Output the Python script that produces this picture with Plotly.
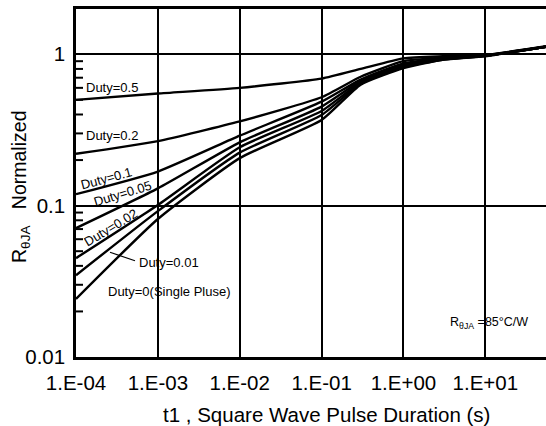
import math
import plotly.graph_objects as go

# ---- data ----
t_values = [1e-4, 1e-3, 1e-2, 1e-1, 3e-1, 1.0, 3.0, 10.0, 55.0]
duty_labels = ["0.5", "0.2", "0.1", "0.05", "0.02", "0.01", "0"]
r_d05 = [0.50, 0.55, 0.60, 0.69, 0.80, 0.94, 0.97, 0.99, 1.13]
r_d02 = [0.22, 0.267, 0.36, 0.52, 0.71, 0.90, 0.95, 0.985, 1.12]
r_d01 = [0.119, 0.168, 0.29, 0.486, 0.68, 0.87, 0.94, 0.98, 1.12]
r_d005 = [0.071, 0.13, 0.262, 0.451, 0.665, 0.85, 0.93, 0.98, 1.12]
r_d002 = [0.045, 0.101, 0.243, 0.422, 0.65, 0.83, 0.925, 0.975, 1.12]
r_d001 = [0.0347, 0.092, 0.224, 0.397, 0.64, 0.82, 0.92, 0.975, 1.12]
r_single = [0.0242, 0.0816, 0.206, 0.368, 0.63, 0.81, 0.92, 0.97, 1.12]
series = [r_d05, r_d02, r_d01, r_d005, r_d002, r_d001, r_single]

x_tickvals = [1e-4, 1e-3, 1e-2, 1e-1, 1e0, 1e1]
x_ticktext = ["1.E-04", "1.E-03", "1.E-02", "1.E-01", "1.E+00", "1.E+01"]
y_tickvals = [0.01, 0.1, 1]
y_ticktext = ["0.01", "0.1", "1"]
y_minor = [m * 10 ** e for e in (-2, -1) for m in range(2, 10)]

FONT = "Liberation Sans, Arial, sans-serif"
W, H = 546, 426
L, R, T, B = 76, 0, 9, 69
PW, PH = W - L - R, H - T - B
YR = [-2, 0.299]


def px(xp):
    return (xp - L) / PW


def py(yp):
    return (H - B - yp) / PH


def ylog_to_paper(v):
    return (math.log10(v) - YR[0]) / (YR[1] - YR[0])


fig = go.Figure()
for name, vals in zip(duty_labels, series):
    fig.add_trace(go.Scatter(x=t_values, y=vals, mode="lines", name="Duty=" + name,
                             line=dict(color="black", width=2.4, shape="spline", smoothing=0.5),
                             showlegend=False, hoverinfo="skip"))

ann = []
def label(text, xp, yp, ang=0, size=13):
    ann.append(dict(text=text, x=px(xp), y=py(yp), xref="paper", yref="paper",
                    showarrow=False, textangle=ang, xanchor="center", yanchor="middle",
                    font=dict(family=FONT, size=size, color="black")))

label("Duty=0.5", 112, 87.5)
label("Duty=0.2", 112, 135)
label("Duty=0.1", 106, 178, -15)
label("Duty=0.05", 123, 194, -17)
label("Duty=0.02", 111, 227.5, -31)
label("Duty=0.01", 168.5, 262)
label("Duty=0(Single Pluse)", 168.5, 291)
label("R<sub>θJA</sub> =85°C/W", 488.5, 323, 0, 12.5)
label("t1 , Square Wave Pulse Duration (s)", 326.5, 414, 0, 20.5)
label("R<sub>θJA</sub>\u00a0\u00a0\u00a0Normalized", 20, 187, -90, 19.5)

fig.add_shape(type="line", xref="paper", yref="paper",
              x0=px(110), y0=py(252.3), x1=px(135), y1=py(260.7),
              line=dict(color="black", width=1.2))
# minor ticks (inside) on the y axis
for v in y_minor:
    yp = ylog_to_paper(v)
    fig.add_shape(type="line", xref="paper", yref="paper",
                  x0=0, x1=7 / PW, y0=yp, y1=yp,
                  line=dict(color="black", width=2))

fig.update_layout(
    width=W, height=H, autosize=False,
    margin=dict(l=L, r=R, t=T, b=B, pad=0),
    paper_bgcolor="white", plot_bgcolor="white",
    annotations=ann,
    xaxis=dict(type="log", range=[-4, 1.741], tickmode="array",
               tickvals=x_tickvals, ticktext=x_ticktext, ticks="",
               tickfont=dict(family=FONT, size=20.5, color="black"),
               showgrid=True, gridcolor="black", gridwidth=2,
               showline=True, linecolor="black", linewidth=2.5, mirror=True,
               zeroline=False, ticklabelstandoff=6),
    yaxis=dict(type="log", range=YR, tickmode="array",
               tickvals=y_tickvals, ticktext=y_ticktext, ticks="",
               tickfont=dict(family=FONT, size=20.5, color="black"),
               showgrid=True, gridcolor="black", gridwidth=2,
               showline=True, linecolor="black", linewidth=2.5, mirror=False,
               zeroline=False, ticklabelstandoff=4),
)

fig.write_html("out.html")
